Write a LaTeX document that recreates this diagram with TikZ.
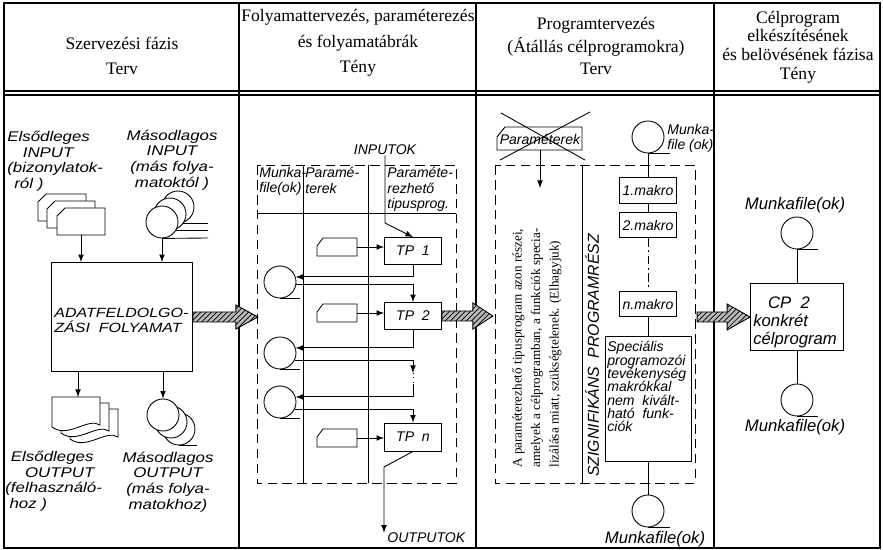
\documentclass[tikz,border=0pt]{standalone}
\usepackage{fontspec}
\setmainfont{Liberation Serif}
\newfontfamily\hand{Liberation Sans}
\newfontfamily\handwide{Liberation Sans}[FakeStretch=1.2]
\usetikzlibrary{shapes,arrows,patterns}

\begin{document}
\begin{tikzpicture}[x=0.02cm, y=-0.02cm]
	\tikzstyle {frame line} = [line width=0.8pt]
	\tikzstyle {flow} = [line width=0.5pt]
	\tikzstyle {lane} = [line width=0.5pt, dash pattern=on 5.5pt off 3pt]
	\tikzstyle {header} = [font=\fontsize{10}{14.5}\selectfont, align=center, inner sep=0pt]
	\tikzstyle {hand} = [font=\hand\itshape\fontsize{8}{8.8}\selectfont, inner sep=0pt]
	\tikzstyle {hand wide} = [font=\handwide\itshape\fontsize{8}{8.9}\selectfont, inner sep=0pt]
	\tikzstyle {hand big} = [font=\hand\itshape\fontsize{9.5}{10.5}\selectfont, inner sep=0pt]
	\tikzstyle {box} = [draw, line width=0.5pt, inner sep=0pt, font=\hand\itshape\fontsize{8}{8.8}\selectfont]
	\tikzstyle {disk} = [draw, line width=0.5pt, fill=white, circle, minimum size=0.64cm, inner sep=0pt]
	\tikzstyle {fat arrow} = [draw, line width=0.5pt, fill=gray!55, postaction={pattern=north east lines}]

	\useasboundingbox (0,0) rectangle (883,550);

	% frame and columns
	\draw[frame line] (4,3) rectangle (880,548);
	\draw[frame line] (4,91) -- (880,91);
	\draw[frame line] (4,95) -- (880,95);
	\foreach \x in {239,476,714}
		\draw[frame line] (\x,3) -- (\x,548);

	\node[header] (h1) at (122,56) {Szervezési fázis\\Terv};
	\node[header] (h2) at (358,43) {Folyamattervezés, paraméterezés\\és folyamatábrák\\Tény};
	\node[header, font=\fontsize{10}{13}\selectfont] (h3) at (596,46) {Programtervezés\\(Átállás célprogramokra)\\Terv};
	\node[header, font=\fontsize{10}{10.6}\selectfont] (h4) at (798,47) {Célprogram\\elkészítésének\\és belövésének fázisa\\Tény};

	% Szervezési fázis
	\node[hand wide, align=left, anchor=north west] (in1) at (7,131) {Elsődleges\\\hspace*{1.1em}INPUT\\(bizonylatok-\\\hspace*{0.5em}ról )};
	\node[hand wide, align=center] (in2) at (172,160) {Másodlagos\\INPUT\\(más folya-\\matoktól )};

	\foreach \x/\y in {38/194, 47/201, 57/208}
		\draw[flow, fill=white] (\x+8,\y) -- (\x+48,\y) -- (\x+48,\y+27) -- (\x,\y+27) -- (\x,\y+8) -- cycle;
	\coordinate (docin) at (81,235);

	\foreach \x/\y in {178/207, 170/214}
	{
		\draw[flow, fill=white] (\x,\y) circle (16);
		\draw[flow] (\x,\y+16) -- (208,\y+16);
	}
	\node[disk] (dskin) at (162,222) {};
	\draw[flow] (dskin.south) -- (208,238);

	\node[draw, flow, minimum width=2.82cm, minimum height=2.18cm] (proc) at (122,317) {};
	\node[font=\handwide\itshape\fontsize{7.6}{8.5}\selectfont, inner sep=0pt, align=left, anchor=west] (proctxt) at (54,320) {ADATFELDOLGO-\\ZÁSI\ \ FOLYAMAT};

	\draw[flow,-latex] (docin) -- (docin |- proc.north);
	\draw[flow,-latex] (dskin.south) -- (dskin.south |- proc.north);

	\foreach \x/\y in {70/409, 61/403, 52/397}
		\draw[flow, fill=white] (\x,\y) -- (\x+48,\y) -- (\x+48,\y+28) .. controls (\x+36,\y+20) and (\x+16,\y+42) .. (\x,\y+30) -- cycle;
	\coordinate (docout) at (78,397);

	\draw[flow, fill=white] (179,429) circle (16);
	\draw[flow] (179,445) -- (197,445);
	\draw[flow, fill=white] (171,422) circle (16);
	\node[disk] (dskout) at (163,415) {};

	\draw[flow,-latex] (docout |- proc.south) -- (docout);
	\draw[flow,-latex] (dskout.north |- proc.south) -- (dskout.north);

	\node[hand wide, align=left, anchor=north west] (out1) at (5,451) {\hspace*{0.4em}Elsődleges\\\hspace*{1.4em}OUTPUT\\(felhasználó-\\\hspace*{0.3em}hoz )};
	\node[hand wide, align=center] (out2) at (168,482) {Másodlagos\\OUTPUT\\(más folya-\\matokhoz)};

	\draw[fat arrow] (proc.east) ++(0,-5) -- ++(43,0) -- ++(0,-7) -- ++(22,12) -- ++(-22,12) -- ++(0,-7) -- ++(-43,0) -- cycle;

	% Folyamattervezes
	\draw[lane] (257,165) rectangle (456,483);
	\draw[flow] (303,165) -- (303,483);
	\draw[flow] (368,165) -- (368,483);
	\draw[flow] (257,213) -- (456,213);
	\node[hand, align=left, anchor=north west] (l1) at (259,167) {Munka-\\file(ok)};
	\node[hand, align=left, anchor=north west] (l2) at (305,167) {Paramé-\\terek};
	\node[hand, align=left, anchor=north west] (l3) at (387,167) {Paraméte-\\rezhető\\tipusprog.};

	\node[hand] (inp) at (385,150) {INPUTOK};
	\coordinate (bend) at (385,223);

	\node[box, minimum width=1.14cm, minimum height=0.54cm] (tp1) at (413,251) {TP\ \ 1};
	\node[box, minimum width=1.14cm, minimum height=0.54cm] (tp2) at (413,316) {TP\ \ 2};
	\node[box, minimum width=1.14cm, minimum height=0.56cm] (tpn) at (413,437) {TP\ \ n};

	\foreach \y/\n in {247/1, 313/2, 438/n}
	{
		\draw[flow] (357,\y-9) -- (357,\y+9) -- (317,\y+9) -- (317,\y-1) -- (323,\y-9) -- cycle;
		\coordinate (card\n) at (357,\y);
	}

	\node[disk] (d1) at (280,282) {};
	\node[disk] (d2) at (280,353) {};
	\node[disk] (d3) at (280,402) {};
	\foreach \d in {d1,d2,d3}
		\draw[flow] (\d.south) -- ++(20,0);

	\draw[flow,-latex] (inp.south) -- (bend) -- (tp1.north);
	\foreach \n in {1,2,n}
		\draw[flow,-latex] (card\n) -- (card\n -| tp\n.west);
	\draw[flow,-latex] (tp1.south) |- (d1.18);
	\draw[flow,-latex] (d1.-10) -| (tp2.north);
	\draw[flow,-latex] (tp2.south) |- (d2.18);
	\coordinate (gap1) at (413,373);
	\coordinate (gap2) at (413,384);
	\draw[flow,-latex] (d2.-25) -| (gap1);
	\draw[flow, dotted] (gap1) -- (gap2);
	\draw[flow,-latex] (gap2) |- (d3.18);
	\draw[flow,-latex] (d3.-25) -| (tpn.north);

	\node[hand, anchor=west] (outp) at (387,538) {OUTPUTOK};
	\coordinate (kink) at (384,467);
	\draw[flow,-latex] (tpn.south) -- (kink) -- (kink |- outp.north);

	\draw[fat arrow] (tp2.east) ++(0,-5) -- ++(31,0) -- ++(0,-8) -- ++(20,13) -- ++(-20,13) -- ++(0,-8) -- ++(-31,0) -- cycle;

	% Programtervezes
	\draw[lane] (495,165) rectangle (695,483);
	\draw[flow] (582,165) -- (582,483);
	\draw[flow] (505,127) -- (582,127) -- (582,150) -- (497,150) -- (497,137) -- cycle;
	\node[hand] (par) at (540,139) {Paraméterek};
	\draw[flow] (501,113) -- (585,160);
	\draw[flow] (590,112) -- (500,160);
	\coordinate (parout) at (540,150);
	\coordinate (parend) at (540,188);
	\draw[flow,-latex] (parout) -- (parend);

	\node[rotate=90, anchor=west, align=left, inner sep=0pt, font=\fontsize{7.5}{10.5}\selectfont] (skip) at (537,468) {A paraméterezhető tipusprogram azon részei,\\amelyek a célprogramban, a funkciók specia-\\lizálása miatt, szükségtelenek. (Elhagyjuk)};
	\node[hand, rotate=90, anchor=west, font=\hand\itshape\fontsize{9}{10}\selectfont] (sig) at (592,477) {SZIGNIFIKÁNS\ \ PROGRAMRÉSZ};

	\node[disk] (mf1) at (648,137) {};
	\draw[flow] (mf1.south) -- ++(22,0);
	\node[hand, align=left, anchor=north west] (mf1txt) at (667,124) {Munka-\\file (ok)};
	\node[box, minimum width=1.14cm, minimum height=0.52cm] (m1) at (648,190) {1.makro};
	\node[box, minimum width=1.14cm, minimum height=0.50cm] (m2) at (648,225) {2.makro};
	\node[box, minimum width=1.14cm, minimum height=0.50cm] (mn) at (648,304) {n.makro};
	\node[draw, flow, minimum width=1.72cm, minimum height=2.5cm] (spec) at (648,399) {};
	\node[hand, align=left, anchor=north west, font=\hand\itshape\fontsize{8}{7.6}\selectfont] (spectxt) at (607,341) {Speciális\\programozói\\tevékenység\\makrókkal\\nem\ \ kivált-\\ható\ \ funk-\\ciók};
	\node[disk] (mf2) at (648,511) {};
	\draw[flow] (mf2.south) -- ++(22,0);
	\node[hand big] (mf2txt) at (655,539) {Munkafile(ok)};
	\draw[flow] (mf1.south) -- (m1.north);
	\draw[flow] (m1.south) -- (m2.north);
	\draw[flow, dash pattern=on 5pt off 2pt on 1pt off 2pt] (m2.south) -- (mn.north);
	\draw[flow] (mn.south) -- (spec.north);
	\draw[flow] (spec.south) -- (mf2.north);

	% Celprogram
	\node[box, minimum width=1.86cm, minimum height=1.34cm] (cp) at (797,317) {};
	\draw[fat arrow] (cp.west) -- ++(-23,-13) -- ++(0,8) -- ++(-30,0) -- ++(0,10) -- ++(30,0) -- ++(0,8) -- cycle;
	\node[hand big] (mf3txt) at (795,205) {Munkafile(ok)};
	\node[disk] (mf3) at (797,233) {};
	\draw[flow] (mf3.south) -- ++(21,0);
	\node[hand big] (cpname) at (789,303) {CP\ \ 2};
	\node[hand big, align=left, anchor=west] (cptxt) at (753,331) {konkrét\\célprogram};
	\node[disk] (mf4) at (797,400) {};
	\draw[flow] (mf4.south) -- ++(21,0);
	\node[hand big] (mf4txt) at (795,427) {Munkafile(ok)};
	\draw[flow] (mf3.south) -- (cp.north);
	\draw[flow] (cp.south) -- (mf4.north);

\end{tikzpicture}
\end{document}
